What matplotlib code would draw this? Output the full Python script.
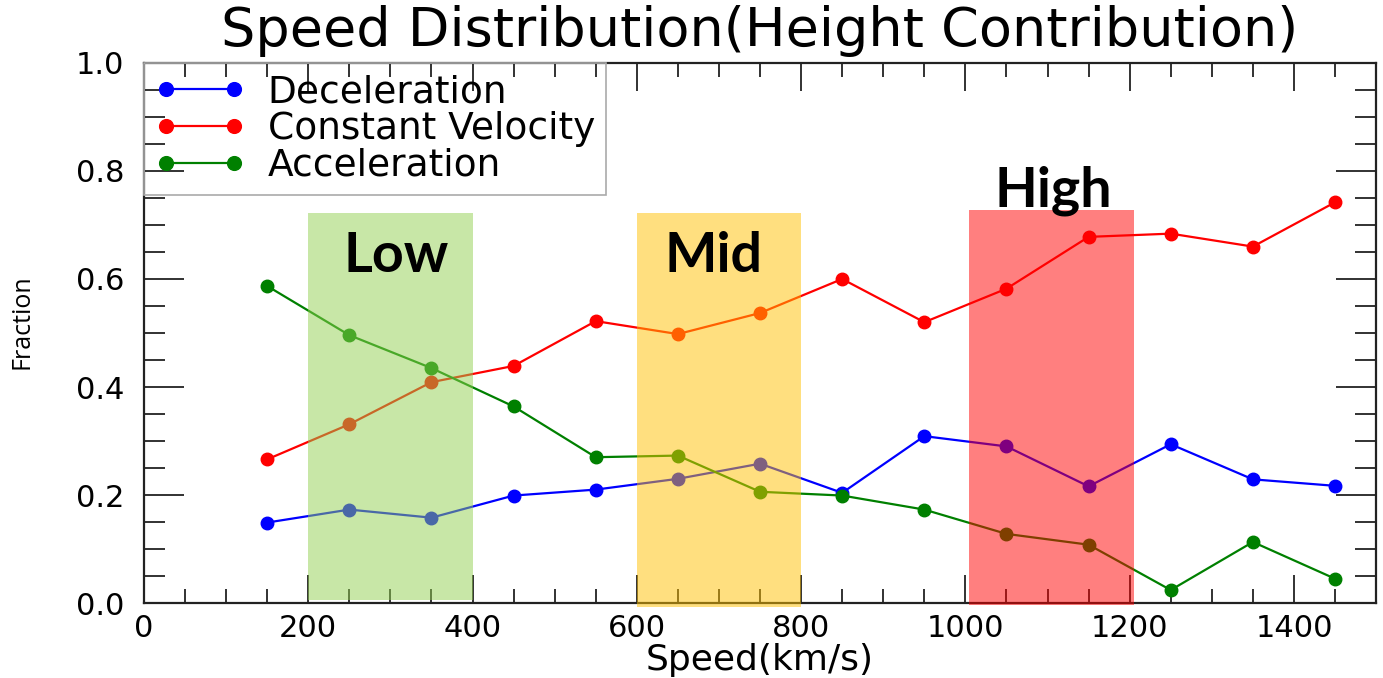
import matplotlib
matplotlib.use("Agg")
import matplotlib.pyplot as plt
import matplotlib.ticker as mticker
from matplotlib.patches import Rectangle

# ── Datos ──────────────────────────────────────────────────────────────────────
speed = [150, 250, 350, 450, 550, 650, 750, 850, 950, 1050, 1150, 1250, 1350, 1450]
decel = [0.149, 0.173, 0.158, 0.199, 0.210, 0.230, 0.258, 0.204, 0.309, 0.290,
         0.216, 0.294, 0.229, 0.217]
const_vel = [0.266, 0.331, 0.409, 0.439, 0.522, 0.498, 0.537, 0.600, 0.520, 0.582,
             0.678, 0.684, 0.660, 0.742]
accel = [0.587, 0.496, 0.435, 0.364, 0.270, 0.273, 0.206, 0.199, 0.173, 0.128,
         0.108, 0.024, 0.113, 0.045]

band_labels = ["Low", "Mid", "High"]
band_x = [(200, 400), (600, 800), (1005, 1205)]
band_y = [(0.006, 0.723), (-0.008, 0.723), (-0.004, 0.727)]
band_colors = ["#92D050", "#FFC000", "#FF0000"]
label_pos = [(307, 0.613), (693, 0.613), (1107, 0.734)]

# ── Figura ─────────────────────────────────────────────────────────────────────
fig = plt.figure(figsize=(13.83, 6.78), dpi=100)
ax = fig.add_axes([0.1041, 0.1106, 0.8909, 0.7965])

ax.plot(speed, decel, "-o", color="#0000ff", lw=1.6, ms=9, label="Deceleration")
ax.plot(speed, const_vel, "-o", color="#ff0000", lw=1.6, ms=9, label="Constant Velocity")
ax.plot(speed, accel, "-o", color="#008000", lw=1.6, ms=9, label="Acceleration")

# bandas superpuestas (semi transparentes, por encima de las líneas)
for (x0, x1), (y0, y1), c in zip(band_x, band_y, band_colors):
    ax.add_patch(Rectangle((x0, y0), x1 - x0, y1 - y0, facecolor=c, alpha=0.5,
                           edgecolor="none", zorder=4, clip_on=False))

for lab, (x, y) in zip(band_labels, label_pos):
    ax.text(x, y, lab, ha="center", va="baseline", fontsize=40,
            fontweight="bold", family="Lato", color="black", zorder=6)

ax.set_xlim(0, 1500)
ax.set_ylim(0, 1.0)
ax.xaxis.set_major_locator(mticker.MultipleLocator(200))
ax.xaxis.set_minor_locator(mticker.MultipleLocator(50))
ax.yaxis.set_major_locator(mticker.MultipleLocator(0.2))
ax.yaxis.set_minor_locator(mticker.MultipleLocator(0.05))
ax.yaxis.set_major_formatter(mticker.FormatStrFormatter("%.1f"))

ax.tick_params(axis="both", which="both", direction="in", top=True, right=True,
               width=1.3, color="#222222")
ax.tick_params(axis="x", which="major", length=20, pad=8, labelsize=22)
ax.tick_params(axis="x", which="minor", length=10)
ax.tick_params(axis="y", which="major", length=29, pad=14, labelsize=22)
ax.tick_params(axis="y", which="minor", length=15)
for s in ax.spines.values():
    s.set_linewidth(1.6)
    s.set_color("#222222")

ax.set_xlabel("Speed(km/s)", fontsize=26, labelpad=0)
fig.text(22 / 1383, 1 - 322 / 678, "Fraction", rotation=90, ha="center",
         va="center", fontsize=18, family="Open Sans")
fig.text(760 / 1383, 1 - 46 / 678, "Speed Distribution(Height Contribution)",
         ha="center", va="baseline", fontsize=39)

leg = ax.legend(loc="upper left", fontsize=27, numpoints=2, handlelength=2.4,
                borderaxespad=0, fancybox=False, framealpha=1,
                labelspacing=0.02, handletextpad=0.6, borderpad=0.3,
                markerscale=1.1)
leg.get_frame().set_edgecolor("#aaaaaa")
leg.get_frame().set_linewidth(1.2)
leg.get_frame().set_facecolor("none")

fig.savefig("out.png", dpi=100)
